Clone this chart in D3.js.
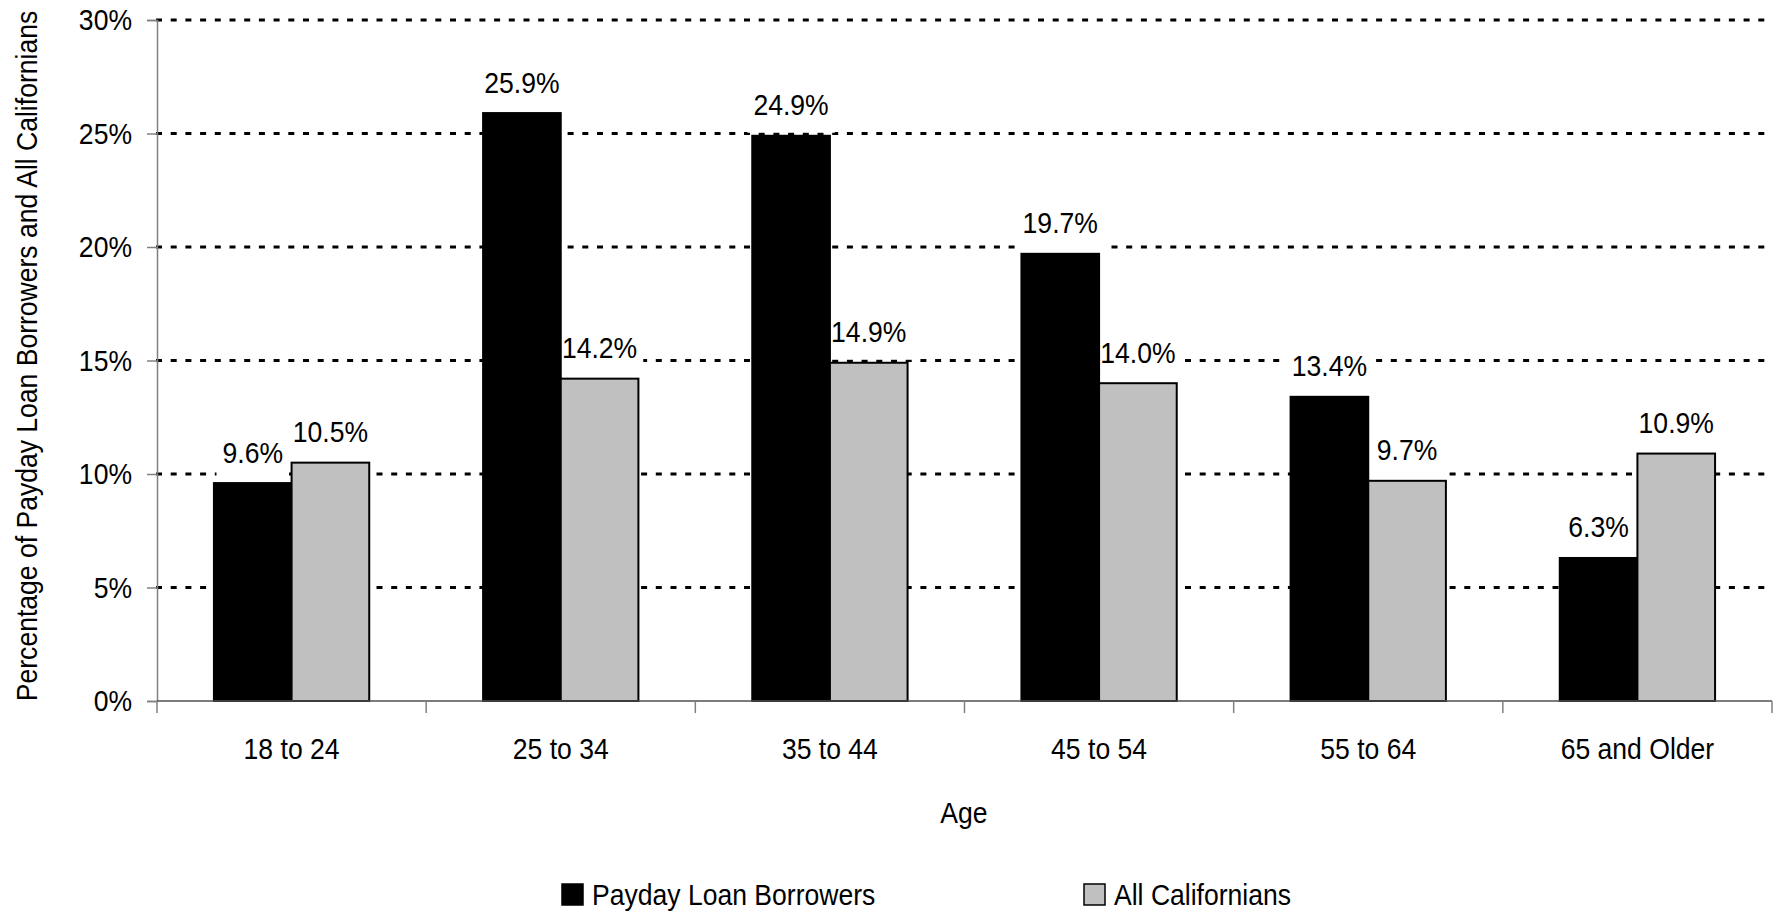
<!DOCTYPE html>
<html>
<head>
<meta charset="utf-8">
<script src="https://cdn.jsdelivr.net/npm/d3@7"></script>
<style>
  html, body { margin: 0; padding: 0; background: #fff; }
  svg { display: block; }
  text { font-family: "Liberation Sans", Arial, Helvetica, sans-serif; font-size: 30px; fill: #000; }
</style>
</head>
<body>
<svg id="chart" width="1773" height="913"></svg>
<script>
const categories = ["18 to 24", "25 to 34", "35 to 44", "45 to 54", "55 to 64", "65 and Older"];
const seriesNames = ["Payday Loan Borrowers", "All Californians"];
const paydayValues = [9.6, 25.9, 24.9, 19.7, 13.4, 6.3];
const allCaliforniansValues = [10.5, 14.2, 14.9, 14.0, 9.7, 10.9];
const yTicks = [0, 5, 10, 15, 20, 25, 30];
const seriesColors = ["#000000", "#C0C0C0"];

const svg = d3.select("#chart");
const plotLeft = 157, plotRight = 1772, plotTop = 20, plotBottom = 701;
const condense = 0.885;

// narrow the sans font horizontally to mimic the condensed face
function narrow(sel) {
  sel.each(function () {
    const w = this.getComputedTextLength();
    d3.select(this).attr("textLength", w * condense).attr("lengthAdjust", "spacingAndGlyphs");
  });
}

const x0 = d3.scaleBand().domain(categories).range([plotLeft, plotRight]).padding(0);
const groupFrac = 0.577;
const bw = x0.bandwidth();
const x1 = d3.scaleBand().domain(seriesNames)
  .range([(bw - bw * groupFrac) / 2, (bw + bw * groupFrac) / 2]).padding(0);
const y = d3.scaleLinear().domain([0, 30]).range([plotBottom, plotTop]);

const data = categories.map((c, i) => ({
  cat: c,
  vals: [
    { s: seriesNames[0], v: paydayValues[i], color: seriesColors[0] },
    { s: seriesNames[1], v: allCaliforniansValues[i], color: seriesColors[1] }
  ]
}));

// gridlines
svg.append("g").selectAll("line").data(yTicks.filter(t => t > 0)).join("line")
  .attr("x1", plotLeft - 1).attr("x2", plotRight)
  .attr("y1", d => y(d)).attr("y2", d => y(d))
  .attr("stroke", "#000").attr("stroke-width", 3)
  .attr("stroke-dasharray", "6,8.7");

// y axis
const yAxis = svg.append("g").attr("transform", `translate(${plotLeft},0)`)
  .call(d3.axisLeft(y).tickValues(yTicks).tickFormat(d => d + "%").tickSize(10).tickPadding(15));
yAxis.attr("font-size", null).attr("font-family", null);
yAxis.select(".domain").attr("stroke", "#808080").attr("stroke-width", 1.5);
yAxis.selectAll(".tick line").attr("stroke", "#808080").attr("stroke-width", 1.5);
yAxis.selectAll("text").attr("fill", "#000").call(narrow);

// label background boxes (behind bars, above gridlines)
const boxG = svg.append("g");
const barG = svg.append("g");
const textG = svg.append("g");

// bars
const groups = barG.selectAll("g").data(data).join("g")
  .attr("transform", d => `translate(${x0(d.cat)},0)`);
groups.selectAll("rect").data(d => d.vals).join("rect")
  .attr("x", d => x1(d.s))
  .attr("width", x1.bandwidth())
  .attr("y", d => y(d.v))
  .attr("height", d => y(0) - y(d.v))
  .attr("fill", d => d.color)
  .attr("stroke", "#000").attr("stroke-width", 2);

// value labels
data.forEach(d => {
  d.vals.forEach(v => {
    const cx = x0(d.cat) + x1(v.s) + x1.bandwidth() / 2;
    const barTop = y(v.v);
    const t = textG.append("text").attr("x", cx).attr("y", barTop - 20.5)
      .attr("text-anchor", "middle").text(v.v.toFixed(1) + "%").call(narrow);
    const w = +t.attr("textLength");
    boxG.append("rect").attr("fill", "#fff")
      .attr("x", cx - w / 2 - 6).attr("width", w + 12)
      .attr("y", barTop - 48).attr("height", 45);
  });
});

// x axis line and boundary ticks
svg.append("line").attr("x1", plotLeft).attr("x2", plotRight).attr("y1", y(0)).attr("y2", y(0))
  .attr("stroke", "#505050").attr("stroke-width", 1.5);
const bounds = categories.map(c => x0(c)).concat([x0(categories[categories.length - 1]) + bw]);
svg.append("g").selectAll("line").data(bounds).join("line")
  .attr("x1", d => d).attr("x2", d => d)
  .attr("y1", y(0)).attr("y2", y(0) + 12)
  .attr("stroke", "#808080").attr("stroke-width", 1.5);
svg.append("g").selectAll("text").data(categories).join("text")
  .attr("x", d => x0(d) + bw / 2).attr("y", 759)
  .attr("text-anchor", "middle").text(d => d).call(narrow);

// axis titles
svg.append("text").attr("x", 964).attr("y", 823).attr("text-anchor", "middle").text("Age").call(narrow);
svg.append("text").attr("transform", `translate(37,356) rotate(-90) scale(${condense},1)`)
  .attr("text-anchor", "middle").text("Percentage of Payday Loan Borrowers and All Californians");

// legend
const legendX = [562, 1084];
const leg = svg.append("g").selectAll("g").data(seriesNames).join("g")
  .attr("transform", (d, i) => `translate(${legendX[i]},884)`);
leg.append("rect").attr("width", 21).attr("height", 21)
  .attr("fill", (d, i) => seriesColors[i]).attr("stroke", "#000").attr("stroke-width", 1.5);
leg.append("text").attr("x", 30).attr("y", 21).text(d => d).call(narrow);
</script>
</body>
</html>
